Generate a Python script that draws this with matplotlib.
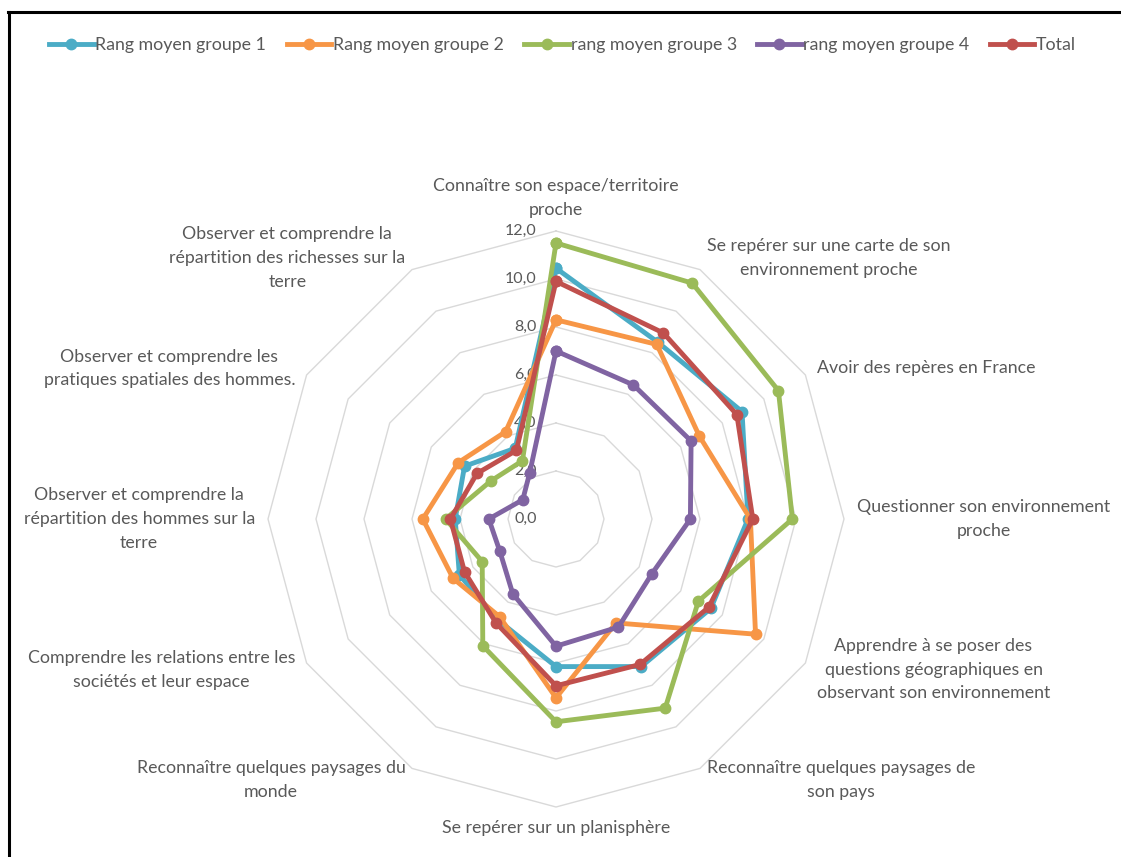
import numpy as np
import matplotlib
matplotlib.use("Agg")
import matplotlib.pyplot as plt
from matplotlib.lines import Line2D

plt.rcParams['font.family'] = ['Lato', 'DejaVu Sans']

categories = [
    "Connaître son espace/territoire\nproche",
    "Se repérer sur une carte de son\nenvironnement proche",
    "Avoir des repères en France",
    "Questionner son environnement\nproche",
    "Apprendre à se poser des\nquestions géographiques en\nobservant son environnement",
    "Reconnaître quelques paysages de\nson pays",
    "Se repérer sur un planisphère",
    "Reconnaître quelques paysages du\nmonde",
    "Comprendre les relations entre les\nsociétés et leur espace",
    "Observer et comprendre la\nrépartition des hommes sur la\nterre",
    "Observer et comprendre les\npratiques spatiales des hommes.",
    "Observer et comprendre la\nrépartition des richesses sur la\nterre",
]

groupe1 = [10.45, 8.5, 8.95, 8.0, 7.45, 7.1, 6.15, 4.85, 4.65, 4.2, 4.4, 3.4]
groupe2 = [8.3, 8.4, 6.9, 8.1, 9.6, 5.0, 7.45, 4.7, 4.95, 5.55, 4.7, 4.2]
groupe3 = [11.5, 11.35, 10.7, 9.85, 6.85, 9.1, 8.45, 6.1, 3.55, 4.6, 3.15, 2.8]
groupe4 = [7.0, 6.45, 6.5, 5.6, 4.6, 5.2, 5.3, 3.6, 2.7, 2.8, 1.6, 2.2]
total = [9.9, 8.95, 8.7, 8.2, 7.35, 7.0, 6.95, 5.0, 4.4, 4.4, 3.8, 3.3]

series_names = ["Rang moyen groupe 1", "Rang moyen groupe 2", "rang moyen groupe 3",
                "rang moyen groupe 4", "Total"]
series_values = [groupe1, groupe2, groupe3, groupe4, total]
colors = ["#4BACC6", "#F79646", "#9BBB59", "#8064A2", "#C0504D"]

ticks = [0, 2, 4, 6, 8, 10, 12]
tick_labels = ["0,0", "2,0", "4,0", "6,0", "8,0", "10,0", "12,0"]

text_color = "#595959"
W, H = 1121, 857

fig = plt.figure(figsize=(W / 100, H / 100), dpi=100)

# axes placed so the chart centre sits at (556, 519) px, r=12 -> 288 px
cx, cy, rad = 556, 519, 288
ax = fig.add_axes([(cx - rad) / W, (H - cy - rad) / H, 2 * rad / W, 2 * rad / H],
                  projection="polar")
ax.set_theta_zero_location("N")
ax.set_theta_direction(-1)
ax.set_ylim(0, 12)
ax.grid(False)
ax.spines["polar"].set_visible(False)
ax.set_xticks([])
ax.set_yticks([])
ax.patch.set_alpha(0)

n = len(categories)
angles = np.linspace(0, 2 * np.pi, n, endpoint=False)
closed = np.append(angles, angles[0])

# polygon grid
for t in ticks[1:]:
    ax.plot(closed, [t] * (n + 1), color="#d9d9d9", lw=1.0, zorder=1, clip_on=False)

# value labels to the left of the vertical axis
for t, lab in zip(ticks, tick_labels):
    ax.annotate(lab, xy=(0, t), xytext=(-14, 0), textcoords="offset points",
                ha="right", va="center", fontsize=11.5, color=text_color, zorder=2)

# category labels
for a, lab in zip(angles, categories):
    s = np.sin(a)
    if abs(s) < 0.01:
        ha = "center"
    elif s > 0:
        ha = "left"
    else:
        ha = "right"
    if abs(a) < 0.01:
        va = "bottom"
    elif abs(a - np.pi) < 0.01:
        va = "top"
    else:
        va = "center"
    ax.text(a, 12.55, lab, ha=ha, va=va, multialignment="center",
            fontsize=12.8, color=text_color, linespacing=1.6)

handles = []
for i, (name, vals, c) in enumerate(zip(series_names, series_values, colors)):
    v = np.append(vals, vals[0])
    h, = ax.plot(closed, v, color=c, lw=3.5, marker="o", markersize=7.5,
                 label=name, zorder=3 + i, clip_on=False)
    handles.append(h)

fig.legend(handles=handles, loc="center", bbox_to_anchor=(0.502, 0.947), ncol=5,
           frameon=False, fontsize=12.8, labelcolor=text_color, handlelength=2.5,
           handletextpad=0.1, columnspacing=1.15, numpoints=1)

# screenshot frame: top and left edges
fig.add_artist(Line2D([8 / W, 1], [1 - 12 / H, 1 - 12 / H], color="black", lw=2.2,
                      transform=fig.transFigure))
fig.add_artist(Line2D([9 / W, 9 / W], [0, 1 - 12 / H], color="black", lw=2.2,
                      transform=fig.transFigure))

fig.savefig("out.png", dpi=100)
